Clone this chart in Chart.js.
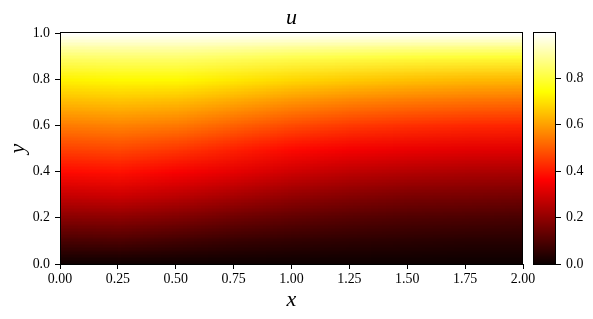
<!DOCTYPE html>
<html><head><meta charset="utf-8">
<script src="https://cdn.jsdelivr.net/npm/chart.js@4/dist/chart.umd.min.js"></script>
<style>
html,body{margin:0;padding:0;background:#fff;}
#wrap{position:relative;width:593px;height:319px;background:#fff;}
#main{position:absolute;left:0;top:0;}
#cbar{position:absolute;left:523px;top:0;}
</style></head><body>
<div id="wrap"><canvas id="main" width="593" height="319"></canvas><canvas id="cbar" width="70" height="319"></canvas></div>
<script>
// grid coordinates
const xCoords = [0, 0.25, 0.5, 0.75, 1.0, 1.25, 1.5, 1.75, 2.0];
const yCoords = [0, 0.1, 0.2, 0.3, 0.4, 0.5, 0.6, 0.7, 0.8, 0.9, 1.0];
// u values per column (bottom y=0 to top y=1)
const u_x0_00 = [0.000,0.090,0.185,0.280,0.375,0.460,0.545,0.635,0.725,0.850,0.995];
const u_x0_25 = [0.000,0.095,0.190,0.290,0.385,0.470,0.555,0.645,0.735,0.855,0.995];
const u_x0_50 = [0.000,0.080,0.170,0.265,0.355,0.445,0.540,0.635,0.735,0.855,0.995];
const u_x0_75 = [0.000,0.065,0.145,0.235,0.325,0.410,0.505,0.605,0.710,0.840,0.995];
const u_x1_00 = [0.000,0.055,0.125,0.205,0.290,0.375,0.470,0.575,0.685,0.825,0.995];
const u_x1_25 = [0.000,0.050,0.110,0.185,0.265,0.350,0.445,0.550,0.665,0.815,0.995];
const u_x1_50 = [0.000,0.045,0.100,0.170,0.250,0.335,0.430,0.535,0.650,0.805,0.995];
const u_x1_75 = [0.000,0.040,0.095,0.165,0.240,0.325,0.420,0.525,0.640,0.800,0.995];
const u_x2_00 = [0.000,0.040,0.090,0.160,0.235,0.320,0.415,0.520,0.635,0.795,0.995];
const uColumns = [u_x0_00,u_x0_25,u_x0_50,u_x0_75,u_x1_00,u_x1_25,u_x1_50,u_x1_75,u_x2_00];
// tick labels
const xTicks = [0, 0.25, 0.5, 0.75, 1.0, 1.25, 1.5, 1.75, 2.0];
const yTicks = [0, 0.2, 0.4, 0.6, 0.8, 1.0];
const cbTicks = [0, 0.2, 0.4, 0.6, 0.8];
const uMin = 0, uMax = 0.995;

const FAMILY = "'Liberation Serif', 'DejaVu Serif', serif";

function hot(v){
  let t = (v - uMin) / (uMax - uMin);
  t = Math.max(0, Math.min(1, t));
  const a = 0.365079, b = 0.746032;
  const r = t < a ? 0.0416 + (1 - 0.0416) * t / a : 1;
  const g = t < a ? 0 : (t < b ? (t - a) / (b - a) : 1);
  const bl = t < b ? 0 : (t - b) / (1 - b);
  return [Math.round(r*255), Math.round(g*255), Math.round(bl*255)];
}

const heatPoints = [];
xCoords.forEach((x, i) => yCoords.forEach((y, j) => heatPoints.push({x: x, y: y, v: uColumns[i][j]})));

const heatPlugin = {
  id: 'heat',
  beforeDatasetsDraw(chart){
    const {ctx, chartArea: ca, scales: {x: xs, y: ys}} = chart;
    const pts = chart.data.datasets[0].data;
    const nx = xCoords.length, ny = yCoords.length;
    const off = document.createElement('canvas');
    off.width = nx; off.height = ny;
    const octx = off.getContext('2d');
    const img = octx.createImageData(nx, ny);
    pts.forEach(p => {
      const i = xCoords.indexOf(p.x), j = ny - 1 - yCoords.indexOf(p.y);
      const c = hot(p.v);
      const k = (j * nx + i) * 4;
      img.data[k] = c[0]; img.data[k+1] = c[1]; img.data[k+2] = c[2]; img.data[k+3] = 255;
    });
    octx.putImageData(img, 0, 0);
    const dx = xCoords[1] - xCoords[0], dy = yCoords[1] - yCoords[0];
    const left = xs.getPixelForValue(xCoords[0] - dx/2);
    const right = xs.getPixelForValue(xCoords[nx-1] + dx/2);
    const top = ys.getPixelForValue(yCoords[ny-1] + dy/2);
    const bottom = ys.getPixelForValue(yCoords[0] - dy/2);
    ctx.save();
    ctx.beginPath(); ctx.rect(ca.left, ca.top, ca.right - ca.left, ca.bottom - ca.top); ctx.clip();
    ctx.imageSmoothingEnabled = true;
    ctx.imageSmoothingQuality = 'low';
    ctx.drawImage(off, left, top, right - left, bottom - top);
    ctx.restore();
  },
  afterDraw(chart){
    const {ctx, chartArea: ca} = chart;
    ctx.save();
    ctx.strokeStyle = '#000'; ctx.lineWidth = 1;
    ctx.strokeRect(Math.round(ca.left) + 0.5, Math.round(ca.top) - 0.5, Math.round(ca.right - ca.left) - 1, Math.round(ca.bottom - ca.top) + 1);
    ctx.restore();
  }
};

new Chart(document.getElementById('main'), {
  type: 'scatter',
  data: {datasets: [{data: heatPoints, pointRadius: 0, showLine: false}]},
  options: {
    responsive: false, animation: false, devicePixelRatio: 1,
    layout: {padding: {left: 0, right: 70, top: 0, bottom: 0}},
    plugins: {legend: {display: false}, tooltip: {enabled: false}, title: {display: false}},
    scales: {
      x: {
        type: 'linear', min: 0, max: 2,
        afterBuildTicks: s => { s.ticks = xTicks.map(v => ({value: v})); },
        afterFit: s => { s.height = 55; },
        ticks: {callback: v => Number(v).toFixed(2), color: '#000', font: {family: FAMILY, size: 13.9}, padding: 2, maxRotation: 0, autoSkip: false},
        grid: {display: true, drawOnChartArea: false, drawTicks: true, tickLength: 5, color: '#000', lineWidth: 1},
        border: {display: true, color: '#000', width: 1},
        title: {display: true, text: 'x', color: '#000', font: {family: FAMILY, size: 22, style: 'italic'}, padding: {top: 0, bottom: 5.8}}
      },
      xTop: {
        type: 'linear', position: 'top', min: 0, max: 2,
        afterFit: s => { s.height = 33; },
        ticks: {display: false},
        grid: {display: false, drawTicks: false},
        border: {display: false},
        title: {display: true, text: 'u', color: '#000', font: {family: FAMILY, size: 22, style: 'italic'}, padding: {top: 5.5, bottom: 0}}
      },
      y: {
        type: 'linear', min: 0, max: 1,
        afterBuildTicks: s => { s.ticks = yTicks.map(v => ({value: v})); },
        afterFit: s => { s.width = 60; },
        ticks: {callback: v => Number(v).toFixed(1), color: '#000', font: {family: FAMILY, size: 13.9}, padding: 5, autoSkip: false},
        grid: {display: true, drawOnChartArea: false, drawTicks: true, tickLength: 5, color: '#000', lineWidth: 1},
        border: {display: true, color: '#000', width: 1},
        title: {display: true, text: 'y', color: '#000', font: {family: FAMILY, size: 22, style: 'italic'}, padding: {top: 5.5, bottom: 0}}
      }
    }
  },
  plugins: [heatPlugin]
});

const cbarPlugin = {
  id: 'cbarfill',
  beforeDatasetsDraw(chart){
    const {ctx, chartArea: ca, scales: {y: ys}} = chart;
    ctx.save();
    for (let py = Math.floor(ca.top); py < Math.ceil(ca.bottom); py++) {
      const v = ys.getValueForPixel(py + 0.5);
      const c = hot(v);
      ctx.fillStyle = 'rgb(' + c[0] + ',' + c[1] + ',' + c[2] + ')';
      ctx.fillRect(ca.left, py, ca.right - ca.left, 1);
    }
    ctx.strokeStyle = '#000'; ctx.lineWidth = 1;
    ctx.strokeRect(Math.round(ca.left) + 0.5, Math.round(ca.top) - 0.5, Math.round(ca.right - ca.left) - 1, Math.round(ca.bottom - ca.top) + 1);
    ctx.restore();
  }
};

new Chart(document.getElementById('cbar'), {
  type: 'scatter',
  data: {datasets: [{data: cbTicks.map(v => ({x: 0.5, y: v})), pointRadius: 0}]},
  options: {
    responsive: false, animation: false, devicePixelRatio: 1,
    layout: {padding: {left: 10, right: 0, top: 33, bottom: 55}},
    plugins: {legend: {display: false}, tooltip: {enabled: false}, title: {display: false}},
    scales: {
      x: {type: 'linear', min: 0, max: 1, display: false},
      y: {
        type: 'linear', position: 'right', min: uMin, max: uMax,
        afterBuildTicks: s => { s.ticks = cbTicks.map(v => ({value: v})); },
        afterFit: s => { s.width = 37; },
        ticks: {callback: v => Number(v).toFixed(1), color: '#000', font: {family: FAMILY, size: 13.9}, padding: 5, autoSkip: false},
        grid: {display: true, drawOnChartArea: false, drawTicks: true, tickLength: 5, color: '#000', lineWidth: 1},
        border: {display: false}
      }
    }
  },
  plugins: [cbarPlugin]
});
</script>
</body></html>
